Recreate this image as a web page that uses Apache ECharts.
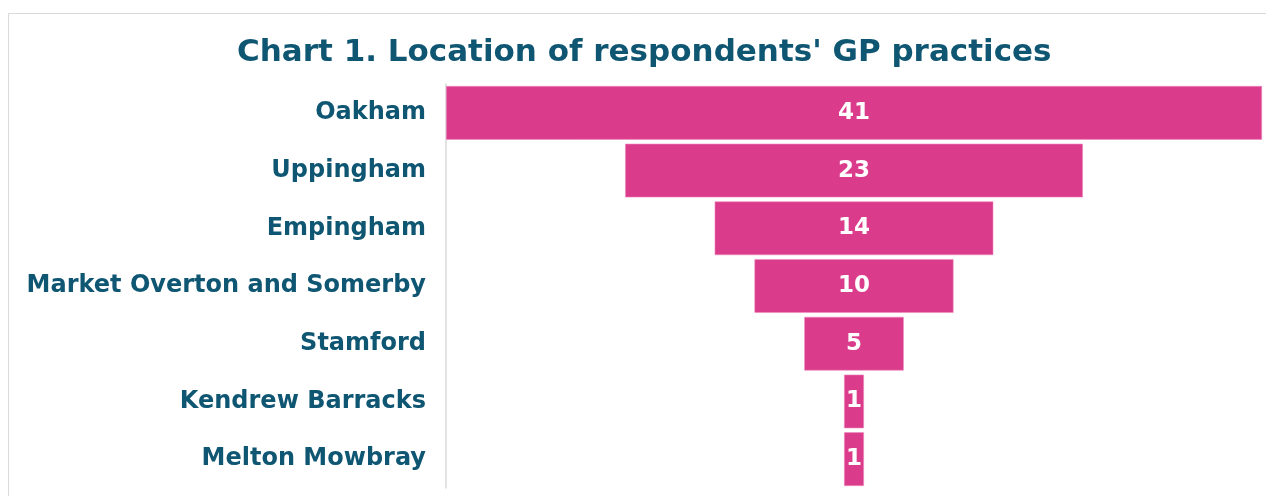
<!DOCTYPE html>
<html>
<head>
<meta charset="utf-8">
<script src="https://cdn.jsdelivr.net/npm/echarts@6/dist/echarts.min.js"></script>
<style>
  html, body { margin: 0; padding: 0; background: #fff; }
  #chart { width: 1266px; height: 496px; }
</style>
</head>
<body>
<div id="chart"></div>
<script>
var categories = ["Oakham", "Uppingham", "Empingham", "Market Overton and Somerby", "Stamford", "Kendrew Barracks", "Melton Mowbray"];
var values = [41, 23, 14, 10, 5, 1, 1];

var maxValue = Math.max.apply(null, values);
// invisible spacer so each bar sits centred on the widest one
var spacer = values.map(function (v) { return (maxValue - v) / 2; });

var textColor = "#0f5673";
var font = "'DejaVu Sans', sans-serif";

var chart = echarts.init(document.getElementById("chart"));
chart.setOption({
  animation: false,
  title: {
    text: "Chart 1. Location of respondents' GP practices",
    left: 232,
    top: 32,
    textStyle: { color: textColor, fontSize: 31, fontWeight: "bold", fontFamily: font }
  },
  graphic: [{
    type: "rect",
    shape: { x: 8.5, y: 13.5, width: 1300, height: 600 },
    style: { fill: "none", stroke: "#d9d9d9", lineWidth: 1 },
    silent: true
  }],
  grid: { left: 446, right: 4, top: 84, bottom: 8 },
  xAxis: {
    type: "value",
    min: 0,
    max: maxValue,
    show: false
  },
  yAxis: {
    type: "category",
    inverse: true,
    data: categories,
    axisLine: { show: true, lineStyle: { color: "#d9d9d9", width: 1.5 } },
    axisTick: { show: false },
    axisLabel: { color: textColor, fontSize: 24, fontWeight: "bold", fontFamily: font, margin: 20 }
  },
  series: [
    {
      type: "bar",
      stack: "funnel",
      data: spacer,
      itemStyle: { color: "transparent" },
      barCategoryGap: "7%",
      silent: true
    },
    {
      type: "bar",
      stack: "funnel",
      data: values,
      barCategoryGap: "7%",
      itemStyle: { color: "#da3b8b", borderColor: "#f08bbd", borderWidth: 0.6 },
      label: {
        show: true,
        position: "inside",
        color: "#fff",
        fontSize: 23,
        fontWeight: "bold",
        fontFamily: font
      }
    }
  ]
});
</script>
</body>
</html>
